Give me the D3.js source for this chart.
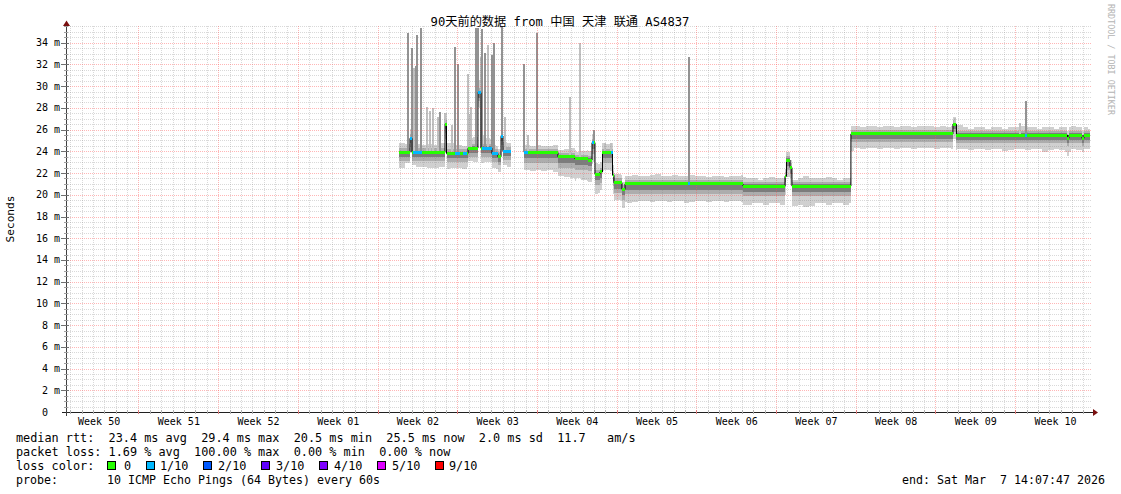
<!DOCTYPE html>
<html><head><meta charset="utf-8">
<script src="https://cdn.jsdelivr.net/npm/d3@7"></script>
<style>
html,body{margin:0;padding:0;background:#fff;overflow:hidden;}
svg text{font-family:"DejaVu Sans Mono","Noto Sans CJK SC",monospace;white-space:pre;}
</style></head><body>
<svg id="c" width="1121" height="494"></svg>
<script>
// ---------------- data ----------------
const title = "90天前的数据 from 中国 天津 联通 AS4837";
const startTime = Date.UTC(2025, 11, 7, 14, 7, 47);
const endTime = Date.UTC(2026, 2, 7, 14, 7, 47);

const yTickValues = [0, 2, 4, 6, 8, 10, 12, 14, 16, 18, 20, 22, 24, 26, 28, 30, 32, 34];
const yTickLabels = ["0", "2 m", "4 m", "6 m", "8 m", "10 m", "12 m", "14 m", "16 m", "18 m", "20 m", "22 m", "24 m", "26 m", "28 m", "30 m", "32 m", "34 m"];
const weekLabels = ["Week 50", "Week 51", "Week 52", "Week 01", "Week 02", "Week 03", "Week 04", "Week 05", "Week 06", "Week 07", "Week 08", "Week 09", "Week 10"];

// median rtt (ms), step changes; day = days after start
const medianDay = [29.25, 30.21, 30.39, 33.29, 33.42, 35.31, 36.18, 36.45, 37.41, 37.94, 38.21, 38.38, 39.08, 40.22, 43.21, 44.70, 45.85, 46.20, 46.46, 46.90, 47.12, 48.00, 48.13, 48.83, 49.10, 59.46, 63.15, 63.28, 63.59, 63.76, 68.94, 77.90, 78.21, 87.96, 88.09, 89.23, 89.41, 89.94];
const medianMs  = [23.9, 25.2, 23.9, 26.5, 23.8, 24.3, 29.4, 24.3, 23.8, 23.5, 25.4, 24.0, null, 23.9, 23.5, 23.3, 23.2, 24.8, 21.9, 22.1, 23.9, 21.8, 21.1, 20.5, 21.0, 20.8, 21.7, 23.2, 22.5, 20.8, 25.6, 26.5, 25.5, 25.2, 25.5, 25.2, 25.5, null];

// packet loss periods (index into lossNames)
const lossStart = [30.21, 30.47, 34.17, 34.90, 36.18, 36.54, 38.21, 40.22, 46.20, 47.87, 54.64, 84.22];
const lossEnd   = [30.39, 31.27, 34.60, 35.22, 36.45, 37.94, 39.08, 40.58, 46.37, 48.04, 54.81, 84.40];
const lossLevel = [1, 1, 1, 1, 1, 1, 1, 1, 1, 1, 1, 1];

// smoke (ping spread around median, ms), half-day bins from day 29.25
const smokeStartDay = 29.25, smokeBinDays = 0.5;
const smokeUp = [
  0.9,0.8,0.9,0.8,0.7,0.8,0.7,0.9,1.0,1.0,
  0.8,0.7,0.9,1.0,1.2,0.9,0.8,0.7,0.9,0.8,
  null,0.7,0.7,0.6,0.7,0.6,0.6,0.7,0.6,0.7,
  0.8,0.6,0.7,0.8,1.0,0.9,0.8,0.9,0.8,0.7,
  0.7,0.8,0.7,0.7,0.8,0.9,0.7,0.7,0.8,0.7,
  0.7,0.8,0.7,0.7,0.6,0.7,0.7,0.6,0.7,0.7,
  0.8,0.7,0.7,0.6,0.7,0.8,0.7,0.7,0.7,0.6,
  0.7,0.9,0.7,0.7,0.7,0.8,0.7,0.6,0.7,0.7,
  0.7,0.6,0.7,0.7,0.6,0.7,0.7,0.6,0.7,0.7,
  0.6,0.7,0.7,0.7,0.6,0.7,0.6,0.7,0.9,0.7,
  0.6,0.7,0.7,0.6,0.7,0.7,0.6,0.7,0.7,0.8,
  0.7,0.7,0.6,0.7,0.7,0.6,0.7,0.7,0.8,0.7,0.7,0.6];
const smokeDown = [
  1.4,1.0,1.2,1.3,1.3,1.4,1.4,1.3,1.4,1.3,
  1.3,1.4,1.2,1.3,1.4,1.3,1.3,1.4,1.3,1.4,
  null,1.6,1.6,1.7,1.6,1.7,1.6,1.8,1.8,1.9,
  2.0,1.8,1.9,2.0,1.8,1.7,1.6,1.7,1.6,1.7,
  1.8,1.7,1.6,1.6,1.7,1.6,1.6,1.7,1.6,1.6,
  1.8,1.7,1.6,1.6,1.7,1.6,1.6,1.7,1.6,1.6,
  1.7,1.7,1.6,1.6,1.7,1.6,1.6,1.7,1.6,1.8,
  1.7,1.9,1.8,1.6,1.6,1.7,1.6,1.6,1.7,1.6,
  1.3,1.4,1.3,1.3,1.4,1.3,1.3,1.4,1.3,1.3,
  1.4,1.3,1.3,1.3,1.4,1.3,1.3,1.4,1.3,1.3,
  1.4,1.3,1.3,1.4,1.3,1.3,1.5,1.4,1.3,1.3,
  1.4,1.3,1.3,1.6,1.4,1.3,1.4,1.6,1.3,1.4,1.3,1.3];
// denser inner smoke per period
const regimeStart = [29.25, 40.22, 48.0, 68.94];
const midUp     = [0.40, 0.35, 0.40, 0.35];
const midDown   = [0.80, 1.00, 0.95, 0.75];
const innerUp   = [0.15, 0.15, 0.15, 0.15];
const innerDown = [0.45, 0.55, 0.55, 0.45];

// single high ping spikes
const spikeDay = [30.04, 30.39, 30.56, 30.70, 30.83, 31.18, 31.71, 31.97, 32.23, 32.67, 32.85, 33.29, 33.90, 34.17, 34.43, 35.31, 35.48, 35.61, 36.01, 36.18, 36.45, 36.54, 36.80, 37.07, 37.41, 37.59, 38.29, 38.56, 40.22, 40.58, 41.37, 44.26, 45.14, 46.37, 47.34, 47.87, 54.72, 78.08, 83.79, 84.31];
const spikeTop = [34.9, 33.5, 31.7, 31.9, 34.7, 35.4, 28.1, 27.7, 28.0, 27.2, 27.6, 27.5, 26.4, 33.6, 32.0, 31.1, 27.4, 28.1, 35.4, 35.4, 32.7, 35.3, 33.1, 33.8, 32.9, 34.0, 35.5, 27.2, 32.0, 25.5, 34.9, 29.0, 34.0, 26.0, 24.8, 24.8, 32.7, 27.1, 26.6, 28.6];
const spikeShade = [1, 1, 0, 1, 1, 1, 0, 0, 0, 0, 1, 0, 0, 1, 1, 0, 0, 0, 1, 1, 0, 1, 1, 0, 1, 1, 1, 0, 1, 0, 1, 0, 0, 1, 0, 0, 1, 0, 0, 1];

const lossNames  = ["0", "1/10", "2/10", "3/10", "4/10", "5/10", "9/10"];
const lossColors = ["#26ff00", "#00b8ff", "#0059ff", "#5e00ff", "#7e00ff", "#dd00ff", "#ff0000"];

const statLine1 = "median rtt:  23.4 ms avg  29.4 ms max  20.5 ms min  25.5 ms now  2.0 ms sd  11.7   am/s";
const statLine2 = "packet loss: 1.69 % avg  100.00 % max  0.00 % min  0.00 % now";
const lossLabel = "loss color:";
const probeLabel = "probe:";
const probeText = "10 ICMP Echo Pings (64 Bytes) every 60s";
const endLabel = "end: Sat Mar  7 14:07:47 2026";
const yAxisTitle = "Seconds";
const watermark = "RRDTOOL / TOBI OETIKER";

// ---------------- drawing ----------------
const svg = d3.select("#c");
const DAY = 864e5;
const dayToDate = d => new Date(startTime + d * DAY);
const x = d3.scaleUtc().domain([new Date(startTime), new Date(endTime)]).range([66, 1090.7]);
const y = d3.scaleLinear().domain([0, 35.54]).range([412, 26]);
const xd = d => x(dayToDate(d));
const PL = 66, PR = 1091, PT = 26, PB = 412;

function medianAt(d) {
  const k = d3.bisectRight(medianDay, d) - 1;
  if (k < 0 || k >= medianDay.length - 1) return null;
  return medianMs[k];
}
function regimeAt(d) { return Math.max(0, d3.bisectRight(regimeStart, d) - 1); }
function lossAt(d) {
  for (let i = 0; i < lossStart.length; i++) if (d >= lossStart[i] && d < lossEnd[i]) return lossLevel[i];
  return 0;
}
const rp = (x0, x1, y0, y1) => `M${x0},${y0}H${x1}V${y1}H${x0}Z`;

// smoke
const edges = new Set();
medianDay.forEach(d => edges.add(d));
for (let k = 0; k <= smokeUp.length; k++) edges.add(+(smokeStartDay + k * smokeBinDays).toFixed(4));
regimeStart.forEach(d => edges.add(d));
const bounds = Array.from(edges).sort((a, b) => a - b);
let pOuter = "", pMid = "", pInner = "";
for (let i = 0; i < bounds.length - 1; i++) {
  const a = bounds[i], b = bounds[i + 1], m = (a + b) / 2;
  const med = medianAt(m);
  if (med == null) continue;
  const bin = Math.floor((m - smokeStartDay) / smokeBinDays);
  if (bin < 0 || bin >= smokeUp.length) continue;
  const u = smokeUp[bin], dn = smokeDown[bin];
  if (u == null || dn == null) continue;
  const r = regimeAt(m);
  const xa = xd(a), xb = Math.min(xd(b), PR);
  pOuter += rp(xa, xb, y(med + u), y(med - dn));
  pMid += rp(xa, xb, y(med + midUp[r]), y(med - midDown[r]));
  pInner += rp(xa, xb, y(med + innerUp[r]), y(med - innerDown[r]));
}
const gData = svg.append("g").attr("shape-rendering", "crispEdges");
gData.append("path").attr("d", pOuter).attr("fill", "#d0d0d0");
gData.append("path").attr("d", pMid).attr("fill", "#adadad");
gData.append("path").attr("d", pInner).attr("fill", "#7c7c7c");

// spikes
const shadeColors = ["#c0c0c0", "#939393", "#6e6e6e"];
gData.selectAll("rect.spike").data(spikeDay.map((d, i) => ({ d, top: spikeTop[i], s: spikeShade[i] })))
  .join("rect").attr("class", "spike")
  .attr("x", o => xd(o.d) - 1).attr("width", 2)
  .attr("y", o => y(o.top))
  .attr("height", o => { const med = medianAt(o.d) ?? medianAt(o.d + 0.05) ?? 24; return Math.max(0, y(med) - y(o.top)); })
  .attr("fill", o => shadeColors[o.s]);

// grid
const gridMinor = "rgba(128,128,128,0.3)", gridMajor = "rgba(255,80,80,0.42)";
const gGrid = svg.append("g").attr("shape-rendering", "crispEdges").attr("stroke-dasharray", "1,1");
const minorY = d3.range(0.5, 35.55, 0.5).filter(v => Math.abs(v / 2 - Math.round(v / 2)) > 1e-6);
gGrid.selectAll("line.hmin").data(minorY).join("line")
  .attr("x1", PL).attr("x2", PR).attr("y1", v => Math.round(y(v)) + 0.5).attr("y2", v => Math.round(y(v)) + 0.5)
  .attr("stroke", gridMinor);
const days = d3.utcDay.range(new Date(startTime), new Date(endTime));
const sundays = d3.utcSunday.range(new Date(startTime), new Date(endTime));
const sundaySet = new Set(sundays.map(d => +d));
gGrid.selectAll("line.vmin").data(days.filter(d => !sundaySet.has(+d))).join("line")
  .attr("x1", d => Math.floor(x(d)) + 0.5).attr("x2", d => Math.floor(x(d)) + 0.5).attr("y1", PT).attr("y2", PB)
  .attr("stroke", gridMinor);
gGrid.selectAll("line.hmaj").data(yTickValues.filter(v => v > 0)).join("line")
  .attr("x1", PL).attr("x2", PR).attr("y1", v => Math.round(y(v)) + 0.5).attr("y2", v => Math.round(y(v)) + 0.5)
  .attr("stroke", gridMajor);
gGrid.selectAll("line.vmaj").data(sundays).join("line")
  .attr("x1", d => Math.floor(x(d)) + 0.5).attr("x2", d => Math.floor(x(d)) + 0.5).attr("y1", PT).attr("y2", PB)
  .attr("stroke", gridMajor);

// median line (black) + loss coloured band
let pm = "", prevNull = true;
for (let k = 0; k < medianDay.length - 1; k++) {
  const v = medianMs[k];
  if (v == null) { prevNull = true; continue; }
  const yv = y(v);
  pm += prevNull ? `M${xd(medianDay[k])},${yv}` : `V${yv}`;
  pm += `H${xd(medianDay[k + 1])}`;
  prevNull = false;
}
svg.append("path").attr("d", pm).attr("fill", "none").attr("stroke", "#000").attr("stroke-width", 1);
const mEdges = Array.from(new Set([...medianDay, ...lossStart, ...lossEnd])).sort((a, b) => a - b);
const bands = [];
for (let i = 0; i < mEdges.length - 1; i++) {
  const a = mEdges[i], b = mEdges[i + 1], m = (a + b) / 2;
  const med = medianAt(m);
  if (med == null) continue;
  bands.push({ a, b, med, c: lossColors[lossAt(m)] });
}
svg.append("g").attr("shape-rendering", "crispEdges").selectAll("rect").data(bands).join("rect")
  .attr("x", o => xd(o.a)).attr("width", o => Math.max(0.5, xd(o.b) - xd(o.a)))
  .attr("y", o => y(o.med) - 1.5).attr("height", 3).attr("fill", o => o.c);

// axes
const gAx = svg.append("g");
gAx.append("line").attr("x1", 62).attr("x2", 1094).attr("y1", 412.5).attr("y2", 412.5).attr("stroke", "#202020").attr("shape-rendering", "crispEdges");
gAx.append("line").attr("x1", 66.5).attr("x2", 66.5).attr("y1", 416).attr("y2", 24).attr("stroke", "#404040").attr("shape-rendering", "crispEdges");
gAx.append("path").attr("d", "M1093,409L1098,412.5L1093,416Z").attr("fill", "#7a1010");
gAx.append("path").attr("d", "M63,26L66.5,20.5L70,26Z").attr("fill", "#7a1010");
gAx.selectAll("line.ytm").data(minorY).join("line")
  .attr("x1", 64).attr("x2", 68).attr("y1", v => Math.round(y(v)) + 0.5).attr("y2", v => Math.round(y(v)) + 0.5)
  .attr("stroke", "#a0a0a0").attr("shape-rendering", "crispEdges");
gAx.selectAll("line.ytM").data(yTickValues.filter(v => v > 0)).join("line")
  .attr("x1", 61).attr("x2", 69).attr("y1", v => Math.round(y(v)) + 0.5).attr("y2", v => Math.round(y(v)) + 0.5)
  .attr("stroke", "#707070").attr("shape-rendering", "crispEdges");
gAx.selectAll("line.xtm").data(days).join("line")
  .attr("x1", d => Math.floor(x(d)) + 0.5).attr("x2", d => Math.floor(x(d)) + 0.5).attr("y1", 410).attr("y2", 414)
  .attr("stroke", d => sundaySet.has(+d) ? "#e08080" : "#b0b0b0").attr("shape-rendering", "crispEdges");

gAx.selectAll("text.yl").data(yTickValues).join("text")
  .attr("x", v => v === 0 ? 48 : 60).attr("y", v => y(v) + 3.5)
  .attr("text-anchor", "end").attr("font-size", "10px").attr("fill", "#000")
  .text((v, i) => yTickLabels[i]);
const weekStarts = d3.utcSunday.range(d3.utcSunday.floor(new Date(startTime)), new Date(endTime));
gAx.selectAll("text.wl").data(weekStarts).join("text")
  .attr("x", d => x(new Date(+d + 3.5 * DAY))).attr("y", 425)
  .attr("text-anchor", "middle").attr("font-size", "10px").attr("fill", "#000")
  .text((d, i) => weekLabels[i]);

// titles
svg.append("text").attr("x", 560).attr("y", 26).attr("text-anchor", "middle").attr("font-size", "12.2px").attr("fill", "#000").text(title);
svg.append("text").attr("transform", "translate(14,219) rotate(-90)").attr("text-anchor", "middle").attr("font-size", "11.2px").attr("fill", "#000").text(yAxisTitle);
svg.append("text").attr("transform", "translate(1108,4) rotate(90)").attr("font-size", "8.4px").attr("fill", "#b4b4b4").text(watermark);

// legend
const LF = "11.83px", LF2 = "11.63px";
svg.append("text").attr("x", 16).attr("y", 442).attr("font-size", LF).text(statLine1);
svg.append("text").attr("x", 16).attr("y", 456).attr("font-size", LF).text(statLine2);
svg.append("text").attr("x", 16).attr("y", 470).attr("font-size", LF).text(lossLabel);
const boxX = [107, 146, 203, 261, 319, 377, 435];
const lblX = [124, 160, 218, 276, 334, 392, 449];
lossNames.forEach((n, i) => {
  svg.append("rect").attr("x", boxX[i] + 0.5).attr("y", 461.5).attr("width", 8).attr("height", 8)
    .attr("fill", lossColors[i]).attr("stroke", "#000").attr("shape-rendering", "crispEdges");
  svg.append("text").attr("x", lblX[i]).attr("y", 470).attr("font-size", LF).text(n);
});
svg.append("text").attr("x", 16).attr("y", 484).attr("font-size", LF2).text(probeLabel);
svg.append("text").attr("x", 107).attr("y", 484).attr("font-size", LF2).text(probeText);
svg.append("text").attr("x", 1105).attr("y", 484).attr("text-anchor", "end").attr("font-size", LF2).text(endLabel);
</script>
</body></html>
